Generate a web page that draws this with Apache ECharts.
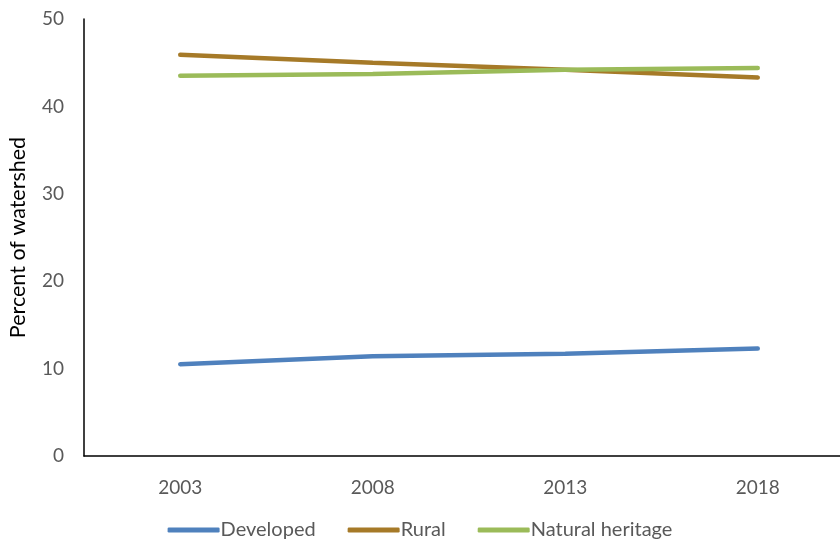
<!DOCTYPE html>
<html><head><meta charset="utf-8">
<script src="https://cdn.jsdelivr.net/npm/echarts@6/dist/echarts.min.js"></script>
<style>html,body{margin:0;padding:0;background:#fff}#c{width:840px;height:548px}</style>
</head><body><div id="c"></div>
<script>
const years = ['2003', '2008', '2013', '2018'];
const developed = [10.5, 11.4, 11.7, 12.3];
const rural = [45.9, 45.0, 44.2, 43.3];
const naturalHeritage = [43.5, 43.7, 44.2, 44.4];
const yTicks = [0, 10, 20, 30, 40, 50];

const FONT = 'Lato, "Open Sans", sans-serif';
const chart = echarts.init(document.getElementById('c'));
const mk = (name, data, color) => ({
  name, type: 'line', data, symbol: 'none', smooth: false,
  lineStyle: { width: 4.5, color, cap: 'round' }, itemStyle: { color }
});
chart.setOption({
  animation: false,
  textStyle: { fontFamily: FONT },
  grid: { left: 84, right: -14, top: 19, bottom: 92, outerBoundsMode: 'none', containLabel: false },
  legend: {
    bottom: 3, left: 'center', itemWidth: 52, itemHeight: 5, itemGap: 32,
    icon: 'roundRect',
    textStyle: { fontFamily: FONT, fontSize: 20, color: '#595959', padding: [0, 0, 0, -4] },
    data: ['Developed', 'Rural', 'Natural heritage']
  },
  xAxis: {
    type: 'category', data: years, boundaryGap: true,
    axisLine: { lineStyle: { color: '#000', width: 1.5 } },
    axisTick: { show: false },
    axisLabel: { fontFamily: FONT, fontSize: 19, color: '#595959', margin: 22 }
  },
  yAxis: {
    type: 'value', min: yTicks[0], max: yTicks[yTicks.length - 1], interval: 10,
    name: 'Percent of watershed', nameLocation: 'middle', nameGap: 55, nameRotate: 90,
    nameTextStyle: { fontFamily: FONT, fontSize: 21.5, color: '#000' },
    axisLine: { show: true, lineStyle: { color: '#000', width: 1.5 } },
    axisTick: { show: false },
    splitLine: { show: false },
    axisLabel: { fontFamily: FONT, fontSize: 19, color: '#595959', margin: 20 }
  },
  series: [
    mk('Developed', developed, '#4F81BD'),
    mk('Rural', rural, '#A67A28'),
    mk('Natural heritage', naturalHeritage, '#9BBB59')
  ]
});
</script></body></html>
